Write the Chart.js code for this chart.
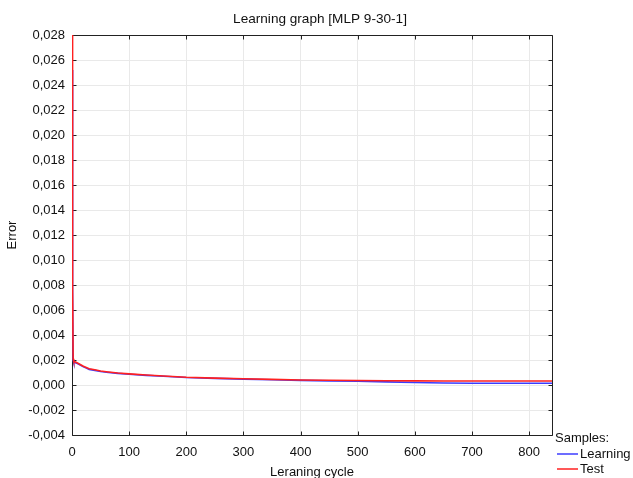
<!DOCTYPE html>
<html>
<head>
<meta charset="utf-8">
<script src="https://cdn.jsdelivr.net/npm/chart.js@4/dist/chart.umd.min.js"></script>
<style>
html,body{margin:0;padding:0;background:#fff;overflow:hidden;}
#wrap{width:633px;height:478px;}
</style>
</head>
<body>
<div id="wrap"><canvas id="c" width="633" height="478"></canvas></div>
<script>
const chartTitle = 'Learning graph [MLP 9-30-1]';
const xTitle = 'Leraning cycle';
const yTitle = 'Error';
const legendTitle = 'Samples:';
const seriesNames = ['Learning', 'Test'];
const epochs = [0, 1, 2, 3, 5, 8, 12, 16, 20, 25, 30, 40, 50, 60, 80, 100, 130, 160, 200, 250, 300, 350, 400, 450, 500, 550, 600, 650, 700, 750, 800, 840];
const learningErr = [0.0252, 0.0074, 0.0020, 0.0018, 0.0018, 0.00175, 0.00165, 0.00155, 0.00145, 0.00135, 0.00125, 0.00117, 0.00108, 0.00102, 0.00093, 0.00086, 0.00077, 0.0007, 0.0006, 0.00053, 0.00047, 0.00042, 0.00037, 0.00033, 0.0003, 0.00025, 0.0002, 0.00016, 0.00014, 0.00014, 0.00014, 0.00014];
const testErr = [0.0300, 0.0076, 0.0021, 0.0019, 0.00185, 0.0018, 0.0017, 0.0016, 0.0015, 0.0014, 0.0013, 0.00122, 0.00112, 0.00106, 0.00096, 0.00089, 0.0008, 0.00072, 0.00062, 0.00055, 0.0005, 0.00045, 0.0004, 0.00038, 0.00036, 0.00034, 0.00033, 0.00032, 0.00032, 0.00032, 0.00032, 0.00032];
const xTicks = [0, 100, 200, 300, 400, 500, 600, 700, 800];
const yMin = -0.004, yMax = 0.028, yStep = 0.002;
const xMin = 0, xMax = 840;
const colors = ['#3c3cff', '#ff2020'];

const FONT = 'Liberation Sans, Arial, sans-serif';

const framePlugin = {
  id: 'frame',
  beforeDatasetsDraw(chart) {
    const {ctx, chartArea: a, scales: {x, y}} = chart;
    ctx.save();
    ctx.strokeStyle = '#222';
    ctx.lineWidth = 1;
    ctx.beginPath();
    const L = Math.round(a.left) + 0.5, R = Math.round(a.right) + 0.5;
    const T = Math.round(a.top) + 0.5, B = Math.round(a.bottom) + 0.5;
    ctx.rect(L, T, R - L, B - T);
    const tl = 4;
    x.ticks.forEach(t => {
      const px = Math.round(x.getPixelForValue(t.value)) + 0.5;
      ctx.moveTo(px, B); ctx.lineTo(px, B - tl);
      ctx.moveTo(px, T); ctx.lineTo(px, T + tl);
    });
    y.ticks.forEach(t => {
      const py = Math.round(y.getPixelForValue(t.value)) + 0.5;
      ctx.moveTo(L, py); ctx.lineTo(L + tl, py);
      ctx.moveTo(R, py); ctx.lineTo(R - tl, py);
    });
    ctx.stroke();
    ctx.restore();
  },
  afterDraw(chart) {
    const {ctx, chartArea: a} = chart;
    ctx.save();
    ctx.fillStyle = '#111';
    ctx.textBaseline = 'middle';
    ctx.textAlign = 'center';
    ctx.font = '13.6px ' + FONT;
    ctx.fillText(chartTitle, 320, 19);
    ctx.font = '13px ' + FONT;
    ctx.textAlign = 'left';
    const lx = a.right + 3;
    ctx.fillText(legendTitle, lx, a.bottom + 3);
    [0, 1].forEach((i, k) => {
      const yy = a.bottom + 19 + k * 15;
      ctx.strokeStyle = colors[i];
      ctx.lineWidth = 1.5;
      ctx.beginPath();
      ctx.moveTo(lx + 2, yy); ctx.lineTo(lx + 23, yy);
      ctx.stroke();
      ctx.fillText(seriesNames[i], lx + 25, yy);
    });
    ctx.restore();
  }
};

const toPts = arr => epochs.map((e, i) => ({x: e, y: arr[i]}));

new Chart(document.getElementById('c'), {
  type: 'line',
  data: {
    datasets: [
      {label: seriesNames[1], data: toPts(testErr), borderColor: colors[1], borderWidth: 1.6, pointRadius: 0, tension: 0, fill: false},
      {label: seriesNames[0], data: toPts(learningErr), borderColor: colors[0], borderWidth: 1.6, pointRadius: 0, tension: 0, fill: false}
    ]
  },
  options: {
    responsive: false,
    animation: false,
    devicePixelRatio: 1,
    layout: {padding: {left: 0, right: 81, top: 35, bottom: 0}},
    plugins: {
      legend: {display: false},
      tooltip: {enabled: false},
      title: {display: false}
    },
    scales: {
      x: {
        type: 'linear', min: xMin, max: xMax,
        afterBuildTicks: s => { s.ticks = xTicks.map(v => ({value: v})); },
        afterFit: s => { s.height = 43; },
        border: {display: false},
        grid: {color: '#e9e9e9', drawTicks: false},
        ticks: {color: '#111', font: {family: FONT, size: 13}, padding: 10, maxRotation: 0, autoSkip: false, callback: v => String(v)},
        title: {display: true, text: xTitle, color: '#111', font: {family: FONT, size: 13, lineHeight: 0.9}, padding: {top: 0, bottom: 0}}
      },
      y: {
        type: 'linear', min: yMin, max: yMax,
        afterBuildTicks: s => { const t = []; for (let k = 0; k <= Math.round((yMax - yMin) / yStep); k++) t.push({value: +(yMin + k * yStep).toFixed(4)}); s.ticks = t; },
        afterFit: s => { s.width = 72; },
        border: {display: false},
        grid: {color: '#e9e9e9', drawTicks: false},
        ticks: {color: '#111', font: {family: FONT, size: 13}, padding: 7, autoSkip: false, callback: v => v.toFixed(3).replace('.', ',')},
        title: {display: true, text: yTitle, color: '#111', font: {family: FONT, size: 13, lineHeight: 1.2}, padding: {top: 5, bottom: 0}}
      }
    }
  },
  plugins: [framePlugin]
});
</script>
</body>
</html>
